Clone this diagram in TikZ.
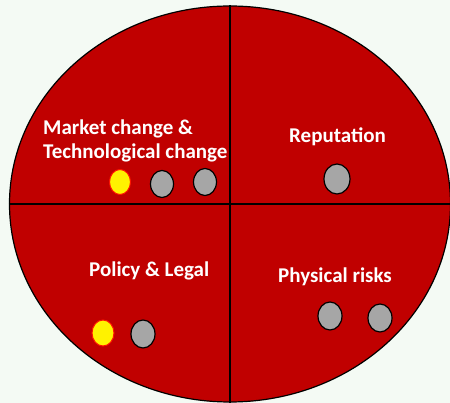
\documentclass[tikz,border=0pt]{standalone}
\usepackage{fontspec}
\setmainfont{Carlito}
\usetikzlibrary{shapes.geometric, positioning}
\definecolor{bgmint}{HTML}{F4FAF4}
\definecolor{riskred}{HTML}{C00000}
\definecolor{dotgray}{HTML}{A6A6A6}

\begin{document}
\begin{tikzpicture}[x=1pt,y=-1pt,
        quadrant/.style={ellipse,draw=black,line width=1.2pt,fill=riskred,inner sep=0pt,
            minimum width=441pt,minimum height=396pt},
        lbl/.style={text=white,font=\fontsize{21}{24}\selectfont\bfseries,anchor=base west,
            inner sep=0pt,align=left},
        hot/.style={ellipse,fill=yellow,draw=red!85!orange,line width=1pt,inner sep=0pt,
            minimum width=21pt,minimum height=25pt},
        cold/.style={ellipse,fill=dotgray,draw=black,line width=1.2pt,inner sep=0pt,
            minimum width=23pt,minimum height=27pt}]

        \path[fill=bgmint,use as bounding box] (0,0) rectangle (450,403);

        \node[quadrant] (oval) at (230,204) {};
        \draw[line width=1.2pt] (oval.north) -- (oval.south);
        \draw[line width=1.2pt] (oval.west) -- (oval.east);

        % base of a two-line node sits on its last line
        \node[lbl] (market) at (43,159) {Market change \&\\Technological change};
        \node[lbl] (reput) at (289,143) {Reputation};
        \node[lbl] (policy) at (89,277) {Policy \& Legal};
        \node[lbl] (phys) at (278,283) {Physical risks};

        \node[hot] (m1) at (120,182) {};
        \node[cold] (m2) at (162,184) {};
        \node[cold] (m3) at (205,182) {};
        \node[cold,minimum width=26pt,minimum height=30pt] (r1) at (337,179) {};
        \node[hot,minimum width=22pt,minimum height=26pt] (p1) at (103,333) {};
        \node[cold,minimum width=24pt,minimum height=28pt] (p2) at (143,334) {};
        \node[cold,minimum width=24pt,minimum height=28pt] (s1) at (330,316) {};
        \node[cold,minimum width=24pt,minimum height=28pt] (s2) at (380,318) {};
\end{tikzpicture}
\end{document}
